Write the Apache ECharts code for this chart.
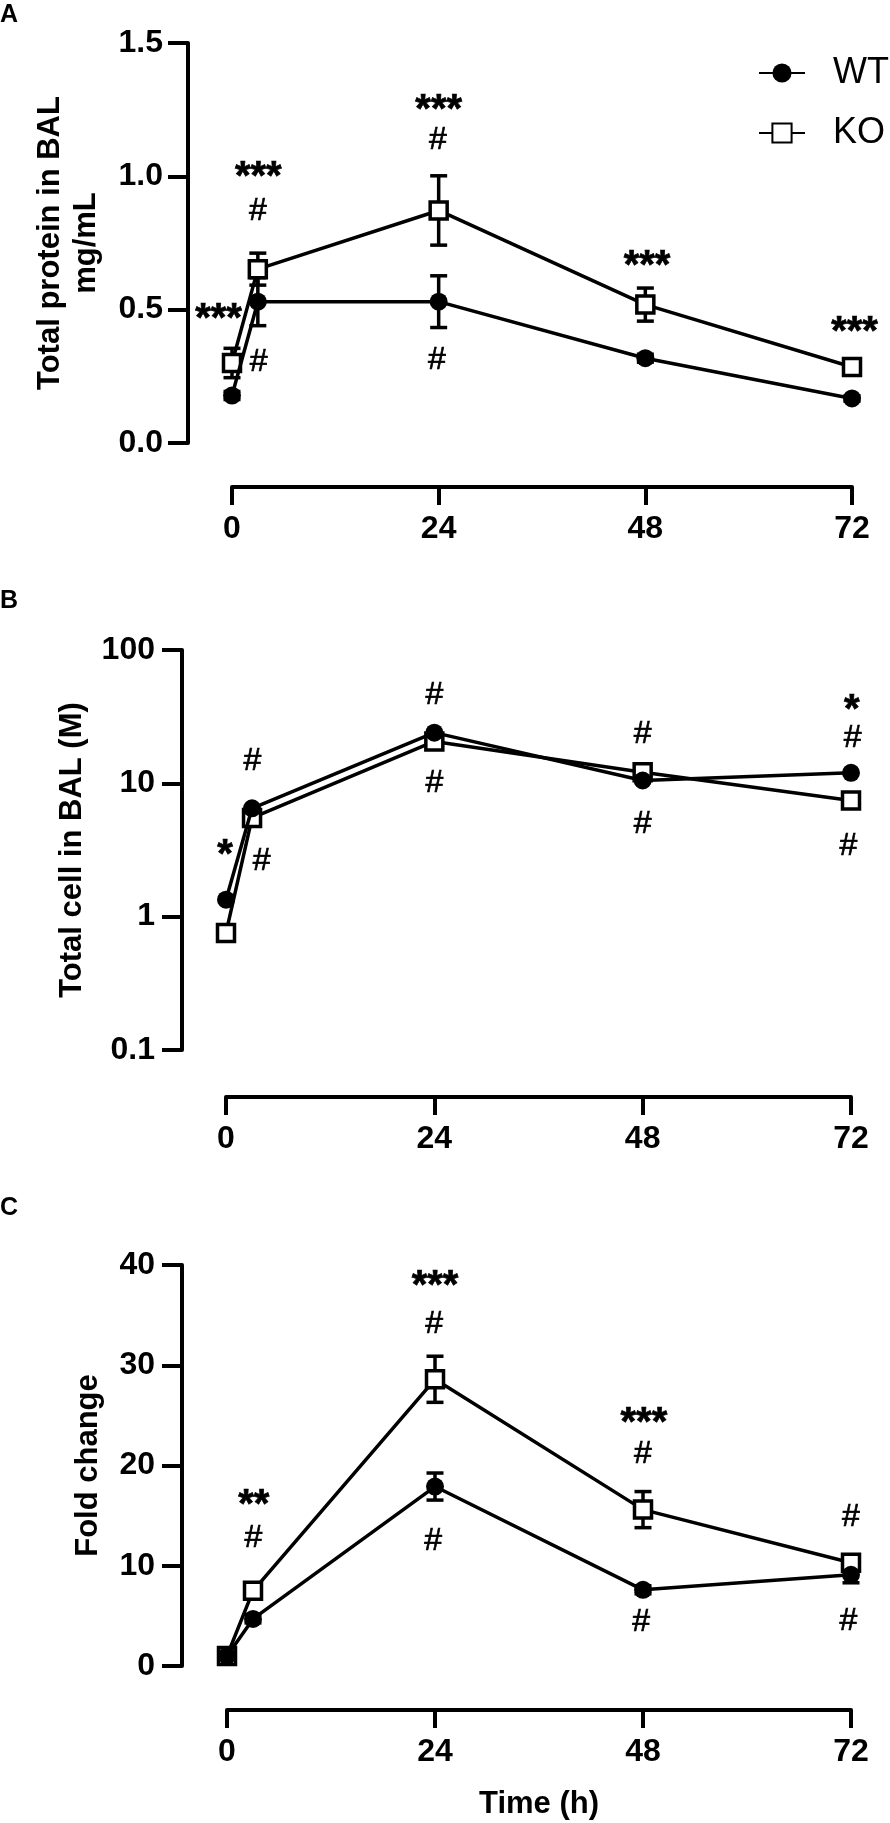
<!DOCTYPE html>
<html><head><meta charset="utf-8">
<script src="https://cdn.jsdelivr.net/npm/echarts@6/dist/echarts.min.js"></script>
<style>html,body{margin:0;padding:0;background:#fff;}#c{width:890px;height:1823px;}</style>
</head><body><div id="c"></div>
<script>
// ---- data ----
const time = [0, 3, 24, 48, 72];
const xTicks = [0, 24, 48, 72];

// Panel A: Total protein in BAL (mg/mL)
const protWT = [0.178, 0.53, 0.53, 0.318, 0.167];
const protKO = [0.30, 0.652, 0.872, 0.519, 0.285];
const protWTerr = [0.015, 0.09, 0.097, 0.015, 0.01];
const protKOerr = [0.055, 0.06, 0.13, 0.062, 0.02];
const protAnn = [[3.05, 1.027, '***'], [3.0, 0.869, '#'], [-1.57, 0.495, '***'], [3.1, 0.304, '#'],
                 [24, 1.28, '***'], [23.9, 1.135, '#'], [23.8, 0.309, '#'],
                 [48.2, 0.692, '***'], [72.3, 0.447, '***']];

// Panel B: Total cell in BAL (M), log scale
const cellWT = [1.34, 6.5, 24.0, 10.5, 12.0];
const cellKO = [0.755, 5.5, 20.6, 12.1, 7.43];
const cellAnn = [[-0.1, 3.35, '*'], [3.05, 14.6, '#'], [4.1, 2.6, '#'], [24, 46, '#'], [24, 10.0, '#'],
                 [48, 23.3, '#'], [48, 4.93, '#'], [72.1, 41.1, '*'], [72.2, 21.9, '#'], [71.7, 3.35, '#']];

// Panel C: Fold change
const foldWT = [1.0, 4.7, 17.9, 7.6, 9.1];
const foldKO = [1.0, 7.5, 28.6, 15.6, 10.3];
const foldWTerr = [0.2, 0.4, 1.35, 0.4, 0.8];
const foldKOerr = [0.3, 0.6, 2.3, 1.8, 0.5];
const foldAnn = [[3.1, 16.9, '**'], [3.06, 12.8, '#'], [24, 38.7, '***'], [23.9, 34.1, '#'], [23.8, 12.5, '#'],
                 [48.1, 25.05, '***'], [48.0, 21.1, '#'], [47.8, 4.34, '#'], [72.0, 14.8, '#'], [71.7, 4.44, '#']];

const yTitles = ['Total protein in BAL\nmg/mL', 'Total cell in BAL (M)', 'Fold change'];
const xTitle = 'Time (h)';
const panelLetters = ['A', 'B', 'C'];

// ---- chart ----
const FONT = '"Liberation Sans", Arial, sans-serif';
const chart = echarts.init(document.getElementById('c'), null, {renderer: 'canvas'});

function lineSeries(name, idx, values, isKO) {
  return {
    type: 'line', name: name, xAxisIndex: idx, yAxisIndex: idx,
    data: time.map((t, i) => [t, values[i]]),
    symbol: isKO ? 'rect' : 'circle', symbolSize: isKO ? 17 : 18,
    lineStyle: {color: '#000', width: 3.5},
    itemStyle: isKO ? {color: '#fff', borderColor: '#000', borderWidth: 3.5} : {color: '#000'},
    z: isKO ? 2 : 3, clip: false, silent: true
  };
}
function errSeries(idx, values, errs) {
  return {
    type: 'custom', xAxisIndex: idx, yAxisIndex: idx, z: 1, silent: true, clip: false,
    data: time.map((t, i) => [t, values[i] - errs[i], values[i] + errs[i]]),
    renderItem: function (params, api) {
      const lo = api.coord([api.value(0), api.value(1)]);
      const hi = api.coord([api.value(0), api.value(2)]);
      const w = 8.5;
      const st = {stroke: '#000', lineWidth: 3.5, fill: null};
      return {type: 'group', children: [
        {type: 'line', shape: {x1: lo[0], y1: lo[1], x2: hi[0], y2: hi[1]}, style: st},
        {type: 'line', shape: {x1: lo[0] - w, y1: lo[1], x2: lo[0] + w, y2: lo[1]}, style: st},
        {type: 'line', shape: {x1: hi[0] - w, y1: hi[1], x2: hi[0] + w, y2: hi[1]}, style: st}
      ]};
    }
  };
}
function annSeries(idx, list) {
  return {
    type: 'scatter', xAxisIndex: idx, yAxisIndex: idx, symbolSize: 0, clip: false, z: 10, silent: true,
    itemStyle: {color: '#000', opacity: 1},
    data: list.map(a => {
      const star = a[2].indexOf('*') >= 0;
      return {value: [a[0], a[1]], label: {
        show: true, formatter: a[2], position: 'inside', align: 'center', verticalAlign: 'middle',
        fontFamily: FONT, color: '#000', opacity: 1, fontSize: star ? 40 : 32, fontWeight: star ? 'bold' : 'normal',
        textBorderColor: '#000', textBorderWidth: 0.7,
        offset: [0, star ? 9 : 0]
      }};
    })
  };
}

const grids = [
  {left: 232, right: 38, top: 43, height: 400},
  {left: 226, right: 39, top: 650, height: 400},
  {left: 227, right: 39, top: 1265, height: 401}
];
const xOffsets = [44, 47, 44];
const yOffsets = [44, 44, 45];
const yGaps = [84, 92, 76];
const yMargins = [25, 27, 27];

const axisLine = {onZero: false, lineStyle: {color: '#000', width: 4}};
const labelStyle = {color: '#000', fontSize: 32, fontWeight: 'bold', fontFamily: FONT};
const nameStyle = {color: '#000', fontSize: 31, fontWeight: 'bold', fontFamily: FONT, lineHeight: 36};

const xAxis = grids.map((g, i) => ({
  type: 'value', gridIndex: i, min: xTicks[0], max: xTicks[xTicks.length - 1], interval: 24,
  offset: xOffsets[i], axisLine: axisLine,
  axisTick: {show: true, length: 18, lineStyle: {color: '#000', width: 4}},
  axisLabel: Object.assign({margin: 26}, labelStyle),
  splitLine: {show: false},
  name: i === 2 ? xTitle : '', nameLocation: 'middle', nameGap: 76, nameTextStyle: nameStyle
}));
const yCommon = (i) => ({
  gridIndex: i, offset: yOffsets[i], axisLine: axisLine,
  axisTick: {show: true, length: 20, lineStyle: {color: '#000', width: 4}},
  splitLine: {show: false},
  name: yTitles[i], nameLocation: 'middle', nameRotate: 90, nameGap: yGaps[i], nameTextStyle: nameStyle
});
const yAxis = [
  Object.assign(yCommon(0), {type: 'value', min: 0, max: 1.5, interval: 0.5,
    axisLabel: Object.assign({margin: yMargins[0], formatter: v => v.toFixed(1)}, labelStyle)}),
  Object.assign(yCommon(1), {type: 'log', logBase: 10, min: 0.1, max: 100,
    axisLabel: Object.assign({margin: yMargins[1], formatter: v => (v < 1 ? v.toFixed(1) : String(Math.round(v)))}, labelStyle)}),
  Object.assign(yCommon(2), {type: 'value', min: 0, max: 40, interval: 10,
    axisLabel: Object.assign({margin: yMargins[2]}, labelStyle)})
];

const series = [
  errSeries(0, protKO, protKOerr), errSeries(0, protWT, protWTerr),
  lineSeries('KO', 0, protKO, true), lineSeries('WT', 0, protWT, false), annSeries(0, protAnn),
  lineSeries('KO', 1, cellKO, true), lineSeries('WT', 1, cellWT, false), annSeries(1, cellAnn),
  errSeries(2, foldKO, foldKOerr), errSeries(2, foldWT, foldWTerr),
  lineSeries('KO', 2, foldKO, true), lineSeries('WT', 2, foldWT, false), annSeries(2, foldAnn)
];

const letterTops = [3, 589, 1196];
chart.setOption({
  animation: false,
  backgroundColor: '#fff',
  title: panelLetters.map((t, i) => ({text: t, left: 0, top: letterTops[i], padding: 0,
    textStyle: {fontSize: 25, fontWeight: 'bold', fontFamily: FONT, color: '#000'}})),
  legend: {data: ['WT', 'KO'], orient: 'vertical', left: 758, top: 55, itemWidth: 46, itemHeight: 24, itemGap: 24,
    selectedMode: false, padding: 0,
    textStyle: {fontSize: 36, fontFamily: FONT, color: '#000', padding: [0, 0, 0, 23]}},
  grid: grids,
  xAxis: xAxis,
  yAxis: yAxis,
  series: series
});
</script></body></html>
